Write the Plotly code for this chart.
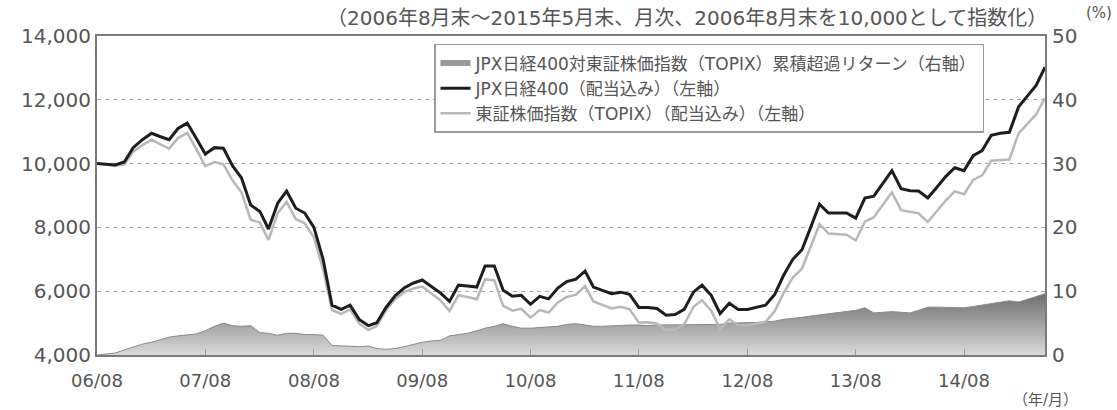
import pandas as pd
import plotly.graph_objects as go

# Monthly, end of Aug 2006 .. end of May 2015 (106 months)
months = pd.date_range(start="2006-08-01", periods=106, freq="MS")

jpx400 = [
    10000, 9980, 9960, 10050, 10500, 10750, 10950, 10850, 10750, 11100,
    11270, 10800, 10300, 10500, 10480, 9930, 9550, 8700, 8500, 7950,
    8760, 9140, 8600, 8450, 8000, 7000, 5560, 5430, 5560, 5110,
    4920, 5010, 5490, 5850, 6100, 6250, 6350, 6150, 5950, 5680,
    6190, 6160, 6130, 6790, 6790, 6030, 5840, 5870, 5590, 5840,
    5760, 6100, 6300, 6380, 6630, 6130, 6030, 5920, 5970, 5900,
    5490, 5490, 5460, 5250, 5270, 5430, 5970, 6190, 5870, 5300,
    5620, 5430, 5430, 5500, 5560, 5900, 6500, 7000, 7300, 7970,
    8730, 8450, 8450, 8450, 8290, 8920, 8980, 9400, 9780, 9210,
    9150, 9140, 8920, 9250, 9600, 9870, 9780, 10250, 10410, 10890,
    10950, 10980, 11780, 12100, 12450, 13020,
]

topix = [
    10000, 9970, 9930, 9970, 10370, 10580, 10750, 10610, 10470, 10800,
    10960, 10470, 9920, 10050, 9980, 9470, 9100, 8240, 8150, 7610,
    8450, 8800, 8260, 8130, 7680, 6690, 5410, 5290, 5430, 4980,
    4780, 4910, 5400, 5750, 5970, 6080, 6150, 5930, 5720, 5380,
    5870, 5820, 5750, 6370, 6340, 5540, 5390, 5450, 5170, 5410,
    5330, 5650, 5820, 5890, 6160, 5680, 5580, 5460, 5510, 5430,
    5020, 5030, 4990, 4780, 4800, 4960, 5500, 5720, 5390, 4820,
    5120, 4930, 4930, 4990, 5040, 5370, 5940, 6430, 6710, 7360,
    8100, 7810, 7790, 7770, 7590, 8180, 8320, 8730, 9100, 8540,
    8490, 8440, 8170, 8500, 8850, 9130, 9040, 9490, 9630, 10090,
    10120, 10130, 10950, 11230, 11540, 12060,
]

excess = [
    0.0, 0.1, 0.3, 0.8, 1.3, 1.7, 2.0, 2.4, 2.8, 3.0,
    3.1, 3.3, 3.8, 4.5, 5.0, 4.6, 4.5, 4.6, 3.5, 3.4,
    3.1, 3.4, 3.4, 3.2, 3.2, 3.1, 1.5, 1.4, 1.3, 1.3,
    1.4, 1.0, 0.9, 1.0, 1.3, 1.7, 2.0, 2.2, 2.3, 3.0,
    3.2, 3.4, 3.8, 4.2, 4.5, 4.9, 4.5, 4.2, 4.2, 4.3,
    4.3, 4.5, 4.8, 4.9, 4.7, 4.5, 4.5, 4.6, 4.6, 4.7,
    4.7, 4.6, 4.7, 4.7, 4.7, 4.7, 4.7, 4.7, 4.8, 4.8,
    5.0, 5.0, 5.0, 5.1, 5.2, 5.3, 5.6, 5.7, 5.9, 6.1,
    6.3, 6.4, 6.6, 6.8, 7.0, 7.4, 6.6, 6.7, 6.8, 6.7,
    6.6, 7.0, 7.5, 7.5, 7.5, 7.4, 7.4, 7.6, 7.8, 8.0,
    8.3, 8.5, 8.3, 8.7, 9.1, 9.6,
]

left_ticks = [4000, 6000, 8000, 10000, 12000, 14000]
left_ticktext = ["4,000", "6,000", "8,000", "10,000", "12,000", "14,000"]
right_ticks = [0, 10, 20, 30, 40, 50]
x_ticks = pd.date_range(start="2006-08-01", periods=9, freq="12MS")

name_excess = "JPX日経400対東証株価指数（TOPIX）累積超過リターン（右軸）"
name_jpx = "JPX日経400（配当込み）（左軸）"
name_topix = "東証株価指数（TOPIX）（配当込み）（左軸）"
title_text = "（2006年8月末～2015年5月末、月次、2006年8月末を10,000として指数化）"

FONT = "DejaVu Sans, Noto Sans CJK JP, sans-serif"
TXT = "#555555"
AXC = "#7a7a7a"

fig = go.Figure()

# area (percent axis, drawn underneath)
fig.add_trace(go.Scatter(
    x=months, y=excess, yaxis="y", mode="lines",
    line=dict(color="#8a8a8a", width=1),
    fill="tozeroy",
    fillgradient=dict(type="vertical", start=0, stop=10,
                      colorscale=[[0, "#dadada"], [1, "#6a6a6a"]]),
    showlegend=False, hoverinfo="skip",
))
# legend-only sample for area
fig.add_trace(go.Scatter(
    x=[None], y=[None], yaxis="y", mode="lines",
    line=dict(color="#9a9a9a", width=6), name=name_excess, legendrank=1,
))
fig.add_trace(go.Scatter(
    x=months, y=topix, yaxis="y2", mode="lines",
    line=dict(color="#b8b8b8", width=2.5), name=name_topix, legendrank=3,
))
fig.add_trace(go.Scatter(
    x=months, y=jpx400, yaxis="y2", mode="lines",
    line=dict(color="#1e1e1e", width=3), name=name_jpx, legendrank=2,
))

fig.update_layout(
    width=1117, height=410,
    margin=dict(l=97, r=72, t=36, b=55),
    paper_bgcolor="white", plot_bgcolor="white",
    font=dict(family=FONT, color=TXT),
    xaxis=dict(
        type="date",
        range=[months[0], months[-1]],
        tickvals=list(x_ticks), tickformat="%y/%m",
        tickfont=dict(size=18, color=TXT),
        ticks="inside", ticklen=6, tickcolor="#999",
        showline=True, linecolor=AXC, linewidth=2, mirror=True,
        showgrid=False, zeroline=False,
        ticklabelstandoff=8,
    ),
    yaxis=dict(
        side="right", range=[0, 50],
        tickvals=right_ticks,
        tickfont=dict(size=20, color=TXT),
        showline=True, linecolor=AXC, linewidth=2,
        showgrid=False, zeroline=False, ticks="",
        ticklabelstandoff=1,
    ),
    yaxis2=dict(
        side="left", overlaying="y", range=[4000, 14000],
        tickvals=left_ticks, ticktext=left_ticktext,
        tickfont=dict(size=20, color=TXT),
        showline=True, linecolor=AXC, linewidth=2,
        showgrid=True, gridcolor="#a8a8a8", gridwidth=1, griddash="4px,4px",
        zeroline=False, ticks="",
        ticklabelstandoff=0,
    ),
    legend=dict(
        x=0.3555, y=0.975, xanchor="left", yanchor="top",
        bgcolor="white", bordercolor="#9a9a9a", borderwidth=1.5,
        font=dict(size=17, color=TXT, family=FONT),
        traceorder="normal", tracegroupgap=0,
    ),
    showlegend=True,
    annotations=[
        dict(text=title_text, xref="paper", yref="paper", x=1.004, y=1.055,
             xanchor="right", yanchor="middle", showarrow=False,
             font=dict(size=20, color=TXT, family=FONT)),
        dict(text="(%)", xref="paper", yref="paper", x=1.041, y=1.072,
             xanchor="left", yanchor="middle", showarrow=False,
             font=dict(size=15, color=TXT, family=FONT)),
        dict(text="（年/月）", xref="paper", yref="paper", x=1.0, y=-0.141,
             xanchor="center", yanchor="middle", showarrow=False,
             font=dict(size=15, color=TXT, family=FONT)),
    ],
)

fig.write_html("out.html", config={"displayModeBar": False},
               post_script="document.body.style.margin='0';")
